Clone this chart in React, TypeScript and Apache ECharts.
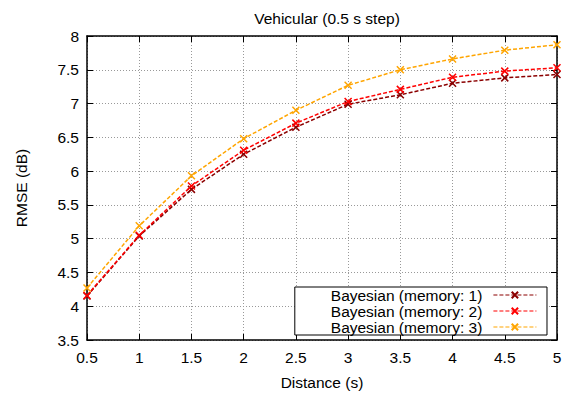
import React, { useEffect, useRef } from "react";
import * as echarts from "echarts";

const distances = ["0.5", "1", "1.5", "2", "2.5", "3", "3.5", "4", "4.5", "5"];
const xValues = [0.5, 1, 1.5, 2, 2.5, 3, 3.5, 4, 4.5, 5];
const memory1 = [4.15, 5.04, 5.73, 6.25, 6.65, 6.99, 7.13, 7.30, 7.38, 7.43];
const memory2 = [4.16, 5.05, 5.78, 6.31, 6.71, 7.03, 7.21, 7.39, 7.48, 7.53];
const memory3 = [4.27, 5.19, 5.93, 6.48, 6.90, 7.27, 7.50, 7.66, 7.79, 7.87];
const seriesNames = ["Bayesian (memory: 1)", "Bayesian (memory: 2)", "Bayesian (memory: 3)"];
const seriesColors = ["#8b0000", "#ff0000", "#ffa500"];

const CROSS = "path://M0,0L10,10M10,0L0,10";
const FONT = "Liberation Sans, Arial, Helvetica, sans-serif";
const FS = 15.5;

export default function App() {
  const ref = useRef<HTMLDivElement>(null);
  useEffect(() => {
    document.body.style.margin = "0";
    const chart = echarts.init(ref.current!, null, { renderer: "svg" });
    const datasets = [memory1, memory2, memory3];
    const axisLine = { show: true, onZero: false, lineStyle: { color: "#000", width: 1.5 } };
    const tick = { show: true, inside: true, length: 6, lineStyle: { color: "#000", width: 1 } };
    chart.setOption({
      animation: false,
      backgroundColor: "#fff",
      textStyle: { fontFamily: FONT },
      title: {
        text: "Vehicular (0.5 s step)",
        left: 322,
        textAlign: "center",
        top: 5,
        textStyle: { fontFamily: FONT, fontSize: FS, fontWeight: "normal", color: "#000" },
      },
      grid: { left: 87, right: 15, top: 36, bottom: 55 },
      legend: {
        data: seriesNames,
        orient: "vertical",
        right: 25,
        top: 287,
        align: "right",
        itemWidth: 43,
        itemHeight: 8,
        itemGap: 0,
        padding: [0, 10, 0, 36],
        backgroundColor: "#fff",
        borderColor: "#000",
        borderWidth: 1,
        borderRadius: 0,
        lineStyle: { width: 1.2 },
        textStyle: { fontFamily: FONT, fontSize: FS, color: "#000", lineHeight: 16, padding: [0, 6, 0, 0] },
      },
      xAxis: [
        {
          type: "value",
          min: 0.5,
          max: 5,
          interval: 0.5,
          name: "Distance (s)",
          nameLocation: "middle",
          nameGap: 34,
          nameTextStyle: { fontFamily: FONT, fontSize: FS, color: "#000" },
          axisLine,
          axisTick: tick,
          axisLabel: {
            fontFamily: FONT,
            fontSize: FS,
            color: "#000",
            margin: 9,
            formatter: (v: number) => distances[xValues.indexOf(v)] ?? String(v),
          },
          splitLine: { show: true, lineStyle: { color: "#999", type: [1, 2], width: 1 } },
        },
        {
          type: "value",
          position: "top",
          min: 0.5,
          max: 5,
          interval: 0.5,
          axisLine,
          axisTick: tick,
          axisLabel: { show: false },
          splitLine: { show: false },
        },
      ],
      yAxis: [
        {
          type: "value",
          min: 3.5,
          max: 8,
          interval: 0.5,
          name: "RMSE (dB)",
          nameLocation: "middle",
          nameGap: 58,
          nameTextStyle: { fontFamily: FONT, fontSize: FS, color: "#000" },
          axisLine,
          axisTick: tick,
          axisLabel: { fontFamily: FONT, fontSize: FS, color: "#000", margin: 8 },
          splitLine: { show: true, lineStyle: { color: "#999", type: [1, 2], width: 1 } },
        },
        {
          type: "value",
          position: "right",
          min: 3.5,
          max: 8,
          interval: 0.5,
          axisLine,
          axisTick: tick,
          axisLabel: { show: false },
          splitLine: { show: false },
        },
      ],
      series: datasets.map((d, i) => ({
        name: seriesNames[i],
        type: "line",
        data: d.map((v, j) => [xValues[j], v]),
        symbol: CROSS,
        symbolSize: 7,
        showSymbol: true,
        lineStyle: { color: seriesColors[i], width: 1.5, type: [4, 2] },
        itemStyle: { color: seriesColors[i], borderColor: seriesColors[i], borderWidth: 1.5 },
        emphasis: { disabled: true },
      })),
    });
    return () => chart.dispose();
  }, []);
  return <div ref={ref} style={{ width: 572, height: 395 }} />;
}
